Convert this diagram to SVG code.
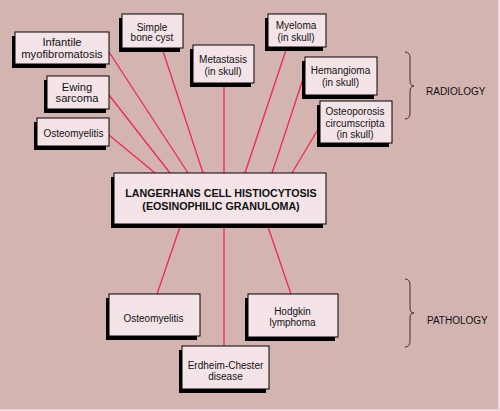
<svg xmlns="http://www.w3.org/2000/svg" width="500" height="411" viewBox="0 0 500 411">
<style>
.sh{fill:#000}
.bx{fill:#f4e4e8;stroke:#000;stroke-width:1}
text{font-family:"Liberation Sans",Arial,sans-serif;font-size:10px;fill:#111;text-anchor:middle}
.big{font-size:11.2px}
.ttl{font-weight:bold;font-size:10.7px}
.lbl{text-anchor:start}
#connectors line{stroke:#f0284f;stroke-width:1.3}
.brace{fill:none;stroke:#333;stroke-width:1}
</style>
<rect x="0" y="0" width="500" height="411" fill="#f0d8dc"/>
<rect x="0" y="0" width="498" height="409" fill="#d3b4b1"/>
<g id="connectors">
<line x1="109" y1="135" x2="155" y2="173"/>
<line x1="109" y1="95" x2="170" y2="173"/>
<line x1="109" y1="52" x2="188" y2="173"/>
<line x1="162" y1="48" x2="203" y2="173"/>
<line x1="224" y1="83" x2="224" y2="173"/>
<line x1="287" y1="47" x2="245" y2="173"/>
<line x1="305" y1="73" x2="272" y2="173"/>
<line x1="320" y1="126" x2="292" y2="173"/>
<line x1="181" y1="224" x2="157" y2="294"/>
<line x1="224" y1="224" x2="224" y2="346"/>
<line x1="267" y1="224" x2="291" y2="294"/>
</g>
<g id="infantile"><rect class="sh" x="12" y="36" width="94" height="32"/><rect class="bx" x="15" y="32" width="94" height="32"/><text class="big" x="62" y="46">Infantile</text><text class="big" x="62" y="58">myofibromatosis</text></g>
<g id="simple"><rect class="sh" x="119" y="18" width="61" height="34"/><rect class="bx" x="122" y="14" width="61" height="34"/><text x="152" y="30.5">Simple</text><text x="152" y="41">bone cyst</text></g>
<g id="metastasis"><rect class="sh" x="190" y="49" width="61" height="38"/><rect class="bx" x="193" y="45" width="61" height="38"/><text x="223" y="63">Metastasis</text><text x="223" y="75">(in skull)</text></g>
<g id="ewing"><rect class="sh" x="44" y="80" width="62" height="33"/><rect class="bx" x="47" y="76" width="62" height="33"/><text class="big" x="77" y="90.5">Ewing</text><text class="big" x="77" y="102">sarcoma</text></g>
<g id="osteomyelitis-top"><rect class="sh" x="34" y="122" width="72" height="28"/><rect class="bx" x="37" y="118" width="72" height="28"/><text x="73.5" y="136.5">Osteomyelitis</text></g>
<g id="myeloma"><rect class="sh" x="265" y="18" width="58" height="33"/><rect class="bx" x="268" y="14" width="58" height="33"/><text x="296" y="29">Myeloma</text><text x="296" y="40.5">(in skull)</text></g>
<g id="hemangioma"><rect class="sh" x="302" y="61" width="72" height="38"/><rect class="bx" x="305" y="57" width="72" height="38"/><text x="340.5" y="74">Hemangioma</text><text x="340.5" y="86">(in skull)</text></g>
<g id="osteoporosis"><rect class="sh" x="317" y="105" width="72" height="42"/><rect class="bx" x="320" y="101" width="72" height="42"/><text x="355" y="115">Osteoporosis</text><text x="355" y="126.5">circumscripta</text><text x="355" y="138">(in skull)</text></g>
<g id="center"><rect class="sh" x="111" y="177" width="212" height="51"/><rect class="bx" x="114" y="173" width="212" height="51"/><text class="ttl" x="221" y="197">LANGERHANS CELL HISTIOCYTOSIS</text><text class="ttl" x="221" y="210">(EOSINOPHILIC GRANULOMA)</text></g>
<g id="osteomyelitis-bottom"><rect class="sh" x="106" y="298" width="91" height="42"/><rect class="bx" x="109" y="294" width="91" height="42"/><text x="153.5" y="321.5">Osteomyelitis</text></g>
<g id="hodgkin"><rect class="sh" x="245" y="298" width="90" height="43"/><rect class="bx" x="248" y="294" width="90" height="43"/><text x="292.5" y="315">Hodgkin</text><text x="292.5" y="326">lymphoma</text></g>
<g id="erdheim"><rect class="sh" x="179" y="350" width="87" height="43"/><rect class="bx" x="182" y="346" width="87" height="43"/><text x="225.5" y="369">Erdheim-Chester</text><text x="225.5" y="380">disease</text></g>
<g id="radiology"><path class="brace" d="M405,52 Q410,52 410,58 L410,80 Q410,86 414,86 Q410,86 410,92 L410,113 Q410,119 405,119"/><text class="lbl" x="426" y="95">RADIOLOGY</text></g>
<g id="pathology"><path class="brace" d="M405,279 Q410,279 410,285 L410,308 Q410,313 414,313 Q410,313 410,318 L410,341 Q410,347 405,347"/><text class="lbl" x="427" y="324">PATHOLOGY</text></g>
</svg>
